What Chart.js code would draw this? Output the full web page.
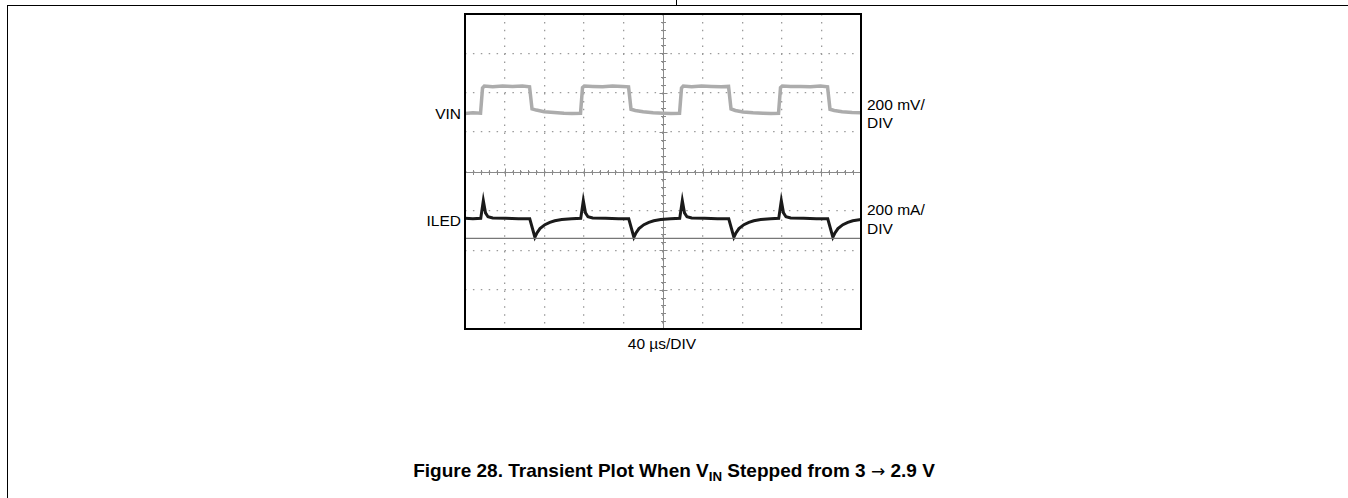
<!DOCTYPE html>
<html>
<head>
<meta charset="utf-8">
<title>Transient Plot</title>
<script src="https://cdn.jsdelivr.net/npm/chart.js@4.4.1/dist/chart.umd.min.js"></script>
<style>
  body { margin: 0; background: #fff; width: 1348px; height: 498px; overflow: hidden; position: relative;
         font-family: "Liberation Sans", Arial, Helvetica, sans-serif; color: #000; }
  .rule { position: absolute; background: #000; }
  .lbl { position: absolute; font-size: 15.5px; line-height: 18.5px; white-space: nowrap; }
  #scopeWrap { position: absolute; left: 461px; top: 10px; width: 404px; height: 323px; }
  #title { position: absolute; left: 0; width: 1348px; top: 460px; text-align: center;
           font-weight: bold; font-size: 19px; line-height: 22px; }
  #title sub { font-size: 0.7em; vertical-align: -0.28em; line-height: 0; }
  #title .arrow { font-family: "DejaVu Sans", sans-serif; font-weight: normal; font-size: 17px; }
</style>
</head>
<body>
<!-- page frame of the datasheet -->
<div class="rule" style="left:7px; top:5px; width:1341px; height:1px;"></div>
<div class="rule" style="left:676px; top:0; width:1px; height:5px;"></div>
<div class="rule" style="left:7px; top:5px; width:1px; height:493px;"></div>

<div id="scopeWrap"><canvas id="scope"></canvas></div>

<div class="lbl" style="right:887px; top:105px;">VIN</div>
<div class="lbl" style="right:887px; top:212px;">ILED</div>
<div class="lbl" style="left:867px; top:95.5px;">200 mV/<br>DIV</div>
<div class="lbl" style="left:867px; top:201px;">200 mA/<br>DIV</div>
<div class="lbl" style="left:562px; width:200px; text-align:center; top:335px;">40 µs/DIV</div>

<div id="title">Figure 28. Transient Plot When V<sub>IN</sub> Stepped from 3 <span class="arrow">→</span> 2.9 V</div>

<script>
// time in µs (40 µs/DIV, 10 divisions), levels in screen divisions from centre
const vinTime = [0, 8, 15.7, 17.7, 19.5, 28, 38, 48, 58, 65.2, 67.7, 72, 80, 90, 100, 108,
  116.7, 118.7, 120.5, 129, 139, 149, 159, 165.2, 167.7, 172, 180, 190, 200, 208,
  216.7, 218.7, 220.5, 229, 239, 249, 259, 266.2, 268.7, 273, 281, 291, 301, 309,
  316.7, 318.7, 320.5, 329, 339, 349, 359, 366.2, 368.7, 373, 381, 391, 400];
const vinLevel = [1.47, 1.49, 1.48, 2.12, 2.17, 2.15, 2.17, 2.16, 2.17, 2.15, 1.59, 1.56, 1.52, 1.50, 1.48, 1.47,
  1.48, 2.13, 2.17, 2.16, 2.15, 2.17, 2.16, 2.15, 1.58, 1.55, 1.52, 1.49, 1.48, 1.47,
  1.48, 2.12, 2.17, 2.15, 2.17, 2.16, 2.15, 2.16, 1.59, 1.55, 1.51, 1.49, 1.48, 1.47,
  1.48, 2.13, 2.17, 2.16, 2.16, 2.15, 2.17, 2.15, 1.58, 1.55, 1.52, 1.50, 1.49];

const iledTime = [0, 8, 15.9, 18.5, 20.7, 23.2, 28, 41, 54, 65.4, 70.6, 72.7, 75.7, 80.7, 85.7, 90.7, 97.7, 107.7,
  116.9, 119.5, 121.7, 124.2, 129, 142, 155, 165.4, 170.6, 172.7, 175.7, 180.7, 185.7, 190.7, 197.7, 207.7,
  216.9, 219.5, 221.7, 224.2, 229, 242, 255, 266.4, 271.6, 273.7, 276.7, 281.7, 286.7, 291.7, 298.7, 308.7,
  316.9, 319.5, 321.7, 324.2, 329, 342, 355, 366.4, 371.6, 373.7, 376.7, 381.7, 386.7, 391.7, 400];
const iledLevel = [-1.19, -1.20, -1.19, -0.74, -1.05, -1.15, -1.18, -1.19, -1.20, -1.20, -1.67, -1.56, -1.45, -1.35, -1.29, -1.25, -1.22, -1.20,
  -1.19, -0.74, -1.05, -1.15, -1.18, -1.19, -1.20, -1.20, -1.67, -1.56, -1.45, -1.35, -1.29, -1.25, -1.22, -1.20,
  -1.19, -0.74, -1.05, -1.15, -1.18, -1.19, -1.20, -1.20, -1.67, -1.56, -1.45, -1.35, -1.29, -1.25, -1.22, -1.20,
  -1.19, -0.74, -1.05, -1.15, -1.18, -1.19, -1.20, -1.20, -1.67, -1.56, -1.45, -1.35, -1.29, -1.25, -1.22];

// ILED ground reference marker
const refTime = [0, 400];
const refLevel = [-1.70, -1.70];

// graticule
const xRange = [0, 400];
const yRange = [-4, 4];
const majorStepX = 40, majorStepY = 1;
const minorStepX = 8, minorStepY = 0.2;

function toPoints(xs, ys) {
  return xs.map((x, i) => ({ x: x, y: ys[i] }));
}

// centre cross with minor ticks and the black frame
const scopePlugin = {
  id: 'scope',
  beforeDatasetsDraw(chart) {
    const ctx = chart.ctx, a = chart.chartArea;
    const xs = chart.scales.x, ys = chart.scales.y;
    const cx = Math.round(xs.getPixelForValue((xRange[0] + xRange[1]) / 2)) + 0.5;
    const cy = Math.round(ys.getPixelForValue((yRange[0] + yRange[1]) / 2)) + 0.5;
    ctx.save();
    ctx.strokeStyle = '#8a8a8a';
    ctx.lineWidth = 1;
    ctx.beginPath();
    ctx.moveTo(a.left, cy); ctx.lineTo(a.right, cy);
    ctx.moveTo(cx, a.top); ctx.lineTo(cx, a.bottom);
    for (let t = xRange[0] + minorStepX; t < xRange[1]; t += minorStepX) {
      const px = Math.round(xs.getPixelForValue(t)) + 0.5;
      const h = (Math.abs(t % majorStepX) < 0.01) ? 4 : 2.5;
      ctx.moveTo(px, cy - h); ctx.lineTo(px, cy + h);
    }
    for (let v = yRange[0] + minorStepY; v < yRange[1] - 0.01; v += minorStepY) {
      const py = Math.round(ys.getPixelForValue(v)) + 0.5;
      const r = Math.abs(v - Math.round(v)) < 0.01 ? 4 : 2.5;
      ctx.moveTo(cx - r, py); ctx.lineTo(cx + r, py);
    }
    ctx.stroke();
    ctx.restore();
  },
  afterDraw(chart) {
    const ctx = chart.ctx, a = chart.chartArea;
    ctx.save();
    ctx.strokeStyle = '#000';
    ctx.lineWidth = 2;
    ctx.strokeRect(a.left, a.top, a.right - a.left, a.bottom - a.top);
    ctx.restore();
  }
};

const ctx = document.getElementById('scope').getContext('2d');
const scopeChart = new Chart(ctx, {
  type: 'line',
  data: {
    datasets: [{
      label: 'VIN',
      data: toPoints(vinTime, vinLevel),
      borderColor: 'rgba(172, 172, 172, 1)',
      borderWidth: 3.5,
      pointRadius: 0,
      tension: 0
    }, {
      label: 'ref',
      data: toPoints(refTime, refLevel),
      borderColor: '#777',
      borderWidth: 1.3,
      pointRadius: 0
    }, {
      label: 'ILED',
      data: toPoints(iledTime, iledLevel),
      borderColor: '#1a1a1a',
      borderWidth: 3,
      pointRadius: 0,
      tension: 0
    }]
  },
  options: {
    responsive: true,
    maintainAspectRatio: false,
    animation: false,
    events: [],
    layout: { padding: 4 },
    scales: {
      x: {
        type: 'linear',
        min: xRange[0],
        max: xRange[1],
        ticks: { display: false, stepSize: majorStepX },
        grid: { color: '#9a9a9a', lineWidth: 1.3, drawTicks: false },
        border: { display: false, dash: [1.5, 6.4] }
      },
      y: {
        type: 'linear',
        min: yRange[0],
        max: yRange[1],
        ticks: { display: false, stepSize: majorStepY },
        grid: { color: '#9a9a9a', lineWidth: 1.3, drawTicks: false },
        border: { display: false, dash: [1.5, 6.4] }
      }
    },
    plugins: {
      legend: { display: false },
      tooltip: { enabled: false }
    }
  },
  plugins: [scopePlugin]
});
</script>
</body>
</html>
